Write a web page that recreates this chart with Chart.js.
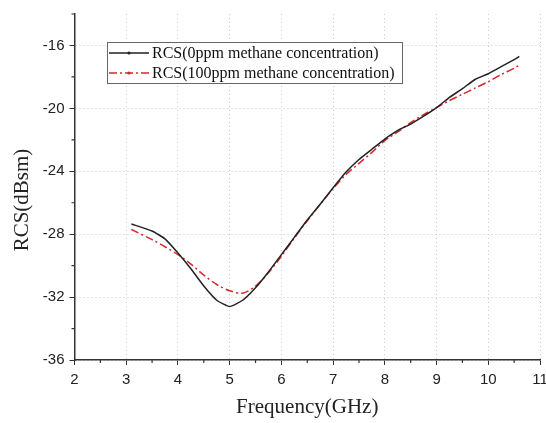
<!DOCTYPE html>
<html>
<head>
<meta charset="utf-8">
<script src="https://cdn.jsdelivr.net/npm/chart.js@4/dist/chart.umd.min.js"></script>
<style>
  html, body { margin: 0; padding: 0; background: #fff; }
  #wrap { width: 546px; height: 423px; }
</style>
</head>
<body>
<div id="wrap"><canvas id="rcsChart" width="546" height="423"></canvas></div>
<script>
// --- data ---
const freqGHz = [3.1, 3.5, 3.75, 4, 4.25, 4.5, 4.75, 5, 5.25, 5.5, 5.75, 6, 6.25, 6.5, 6.75,
                 7, 7.25, 7.5, 7.75, 8, 8.25, 8.5, 8.75, 9, 9.25, 9.5, 9.75, 10, 10.25, 10.5, 10.6];
const rcs0ppm = [-27.35, -27.8, -28.3, -29.2, -30.2, -31.3, -32.2, -32.6, -32.2, -31.4, -30.4, -29.3, -28.2, -27.1, -26.1,
                 -25.05, -24.05, -23.25, -22.6, -21.95, -21.4, -21.0, -20.5, -19.95, -19.3, -18.75, -18.15, -17.8, -17.35, -16.9, -16.7];
const rcs100ppm = [-27.7, -28.35, -28.8, -29.3, -29.9, -30.6, -31.2, -31.6, -31.75, -31.3, -30.45, -29.4, -28.25, -27.15, -26.1,
                   -25.1, -24.2, -23.5, -22.8, -22.05, -21.5, -20.9, -20.4, -19.95, -19.5, -19.1, -18.7, -18.3, -17.85, -17.45, -17.25];

const xTicks = [2, 3, 4, 5, 6, 7, 8, 9, 10, 11];
const yTicks = [-36, -32, -28, -24, -20, -16];
const xMinor = [2.5, 3.5, 4.5, 5.5, 6.5, 7.5, 8.5, 9.5, 10.5];
const yMinor = [-34, -30, -26, -22, -18, -14];

const seriesLabels = ['RCS(0ppm methane concentration)', 'RCS(100ppm methane concentration)'];
const xTitle = 'Frequency(GHz)';
const yTitle = 'RCS(dBsm)';

const AXIS = '#333';
const SERIF = '"Liberation Serif", "Times New Roman", serif';
const SANS = '"Liberation Sans", Arial, sans-serif';
const toPts = (ys) => freqGHz.map((f, i) => ({ x: f, y: ys[i] }));

// minor ticks at the half steps, outside the axes
const minorTicks = {
  id: 'minorTicks',
  afterDraw(chart) {
    const { ctx, scales: { x, y } } = chart;
    ctx.save();
    ctx.strokeStyle = AXIS;
    ctx.lineWidth = 1.2;
    ctx.beginPath();
    xMinor.forEach(v => {
      const px = x.getPixelForValue(v);
      ctx.moveTo(px, y.bottom); ctx.lineTo(px, y.bottom + 3);
    });
    yMinor.forEach(v => {
      const py = y.getPixelForValue(v);
      ctx.moveTo(x.left, py); ctx.lineTo(x.left - 3, py);
    });
    ctx.stroke();
    ctx.restore();
  }
};

// y title sits a bit below the middle of the axis in the original
const yAxisTitle = {
  id: 'yAxisTitle',
  afterDraw(chart) {
    const { ctx } = chart;
    ctx.save();
    ctx.translate(22, 200);
    ctx.rotate(-Math.PI / 2);
    ctx.font = '21px ' + SERIF;
    ctx.fillStyle = '#222';
    ctx.textAlign = 'center';
    ctx.textBaseline = 'middle';
    ctx.fillText(yTitle, 0, 0);
    ctx.restore();
  }
};

// boxed legend inside the plot, upper left
const boxLegend = {
  id: 'boxLegend',
  afterDraw(chart) {
    const { ctx } = chart;
    const bx = 107, by = 42, bw = 295, bh = 41;
    ctx.save();
    ctx.fillStyle = '#fff';
    ctx.fillRect(bx, by, bw, bh);
    ctx.strokeStyle = '#666';
    ctx.lineWidth = 1;
    ctx.strokeRect(bx + 0.5, by + 0.5, bw, bh);
    ctx.font = '16px ' + SERIF;
    ctx.textBaseline = 'middle';
    chart.data.datasets.forEach((ds, i) => {
      const cy = by + 11 + i * 20;
      ctx.strokeStyle = ds.borderColor;
      ctx.lineWidth = 1.5;
      ctx.setLineDash(ds.borderDash || []);
      ctx.beginPath();
      ctx.moveTo(bx + 2, cy); ctx.lineTo(bx + 42, cy);
      ctx.stroke();
      ctx.setLineDash([]);
      ctx.fillStyle = ds.borderColor;
      ctx.beginPath();
      ctx.arc(bx + 22, cy, 1.6, 0, Math.PI * 2);
      ctx.fill();
      ctx.fillStyle = '#111';
      ctx.fillText(ds.label, bx + 45, cy + 1);
    });
    ctx.restore();
  }
};

new Chart(document.getElementById('rcsChart'), {
  type: 'line',
  data: {
    datasets: [
      {
        label: seriesLabels[0],
        data: toPts(rcs0ppm),
        borderColor: '#222222',
        borderWidth: 1.5,
        pointRadius: 0,
        tension: 0.15
      },
      {
        label: seriesLabels[1],
        data: toPts(rcs100ppm),
        borderColor: '#d42a2a',
        borderWidth: 1.5,
        borderDash: [8, 3, 2, 3],
        pointRadius: 0,
        tension: 0.3
      }
    ]
  },
  options: {
    responsive: false,
    animation: false,
    layout: { padding: { top: 11, right: 6, left: 0, bottom: 0 } },
    plugins: { legend: { display: false }, tooltip: { enabled: false } },
    scales: {
      x: {
        type: 'linear',
        min: 2, max: 11,
        afterBuildTicks: s => { s.ticks = xTicks.map(v => ({ value: v })); },
        // the last label ("11") is allowed to run off the edge, as in the original
        afterFit: s => { s.height = 63; s.paddingLeft = 0; s.paddingRight = 0; },
        grid: { color: '#c8c8c8', tickColor: AXIS, tickLength: 5, lineWidth: 1 },
        border: { display: true, color: AXIS, width: 1.5, dash: [1, 3] },
        ticks: {
          color: '#222', padding: 6, maxRotation: 0,
          font: { family: SANS, size: 15 }
        },
        title: {
          display: true, text: xTitle, color: '#222', padding: 3,
          font: { family: SERIF, size: 21 }
        }
      },
      y: {
        type: 'linear',
        min: -36, max: -14,
        afterBuildTicks: s => { s.ticks = yTicks.map(v => ({ value: v })); },
        afterFit: s => { s.width = 74.5; },
        grid: { color: '#c8c8c8', tickColor: AXIS, tickLength: 5, lineWidth: 1 },
        border: { display: true, color: AXIS, width: 1.5, dash: [1, 3] },
        ticks: {
          color: '#222', padding: 5,
          font: { family: SANS, size: 15 }
        }
      }
    }
  },
  plugins: [minorTicks, yAxisTitle, boxLegend]
});
</script>
</body>
</html>
